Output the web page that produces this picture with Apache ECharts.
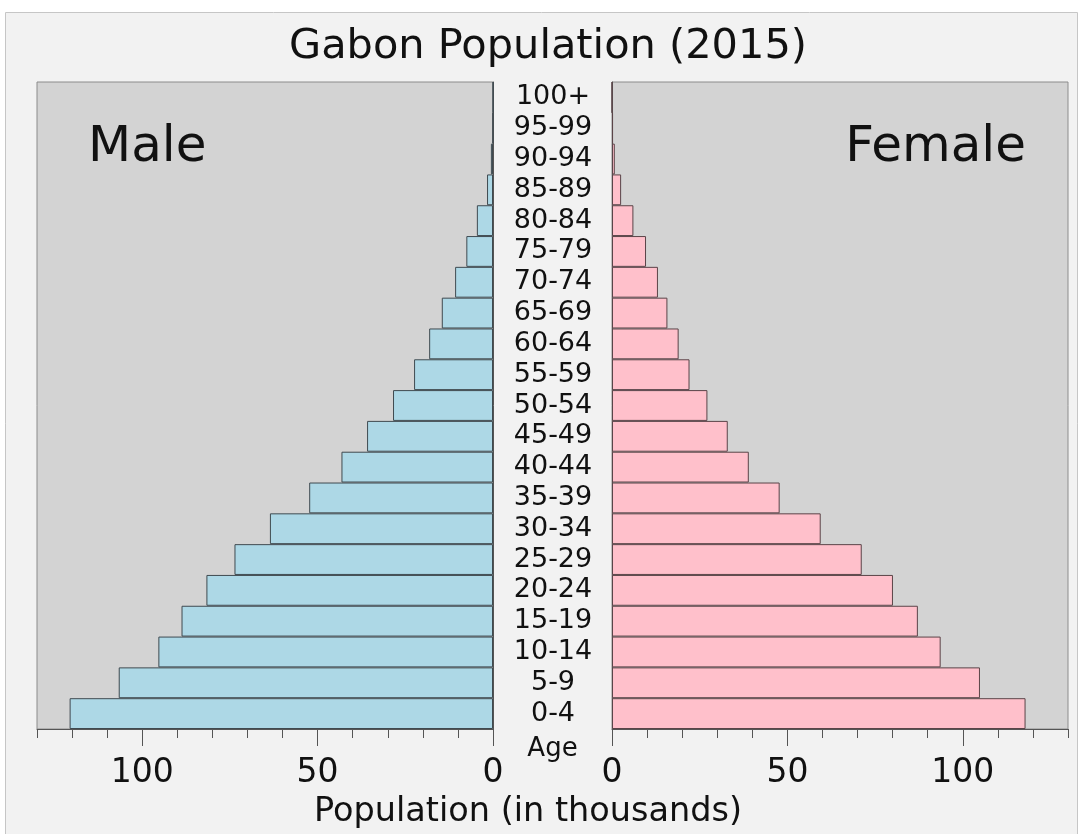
<!DOCTYPE html>
<html>
<head>
<meta charset="utf-8">
<title>Gabon Population (2015)</title>
<script src="https://cdn.jsdelivr.net/npm/echarts@6/dist/echarts.min.js"></script>
<style>
    html, body {margin: 0; padding: 0; background: #fff;}
    #chart {width: 1086px; height: 834px;}
</style>
</head>
<body>
<div id="chart"></div>
<script>
const ages = ['0-4', '5-9', '10-14', '15-19', '20-24', '25-29', '30-34', '35-39', '40-44', '45-49',
    '50-54', '55-59', '60-64', '65-69', '70-74', '75-79', '80-84', '85-89', '90-94', '95-99', '100+'];
// thousands
const male = [120.7, 106.7, 95.4, 88.8, 81.7, 73.7, 63.6, 52.4, 43.2, 35.9,
    28.5, 22.5, 18.2, 14.6, 10.8, 7.6, 4.6, 1.7, 0.6, 0.1, 0];
const female = [117.9, 104.9, 93.7, 87.2, 80.1, 71.2, 59.5, 47.8, 39.0, 33.0,
    27.2, 22.1, 19.0, 15.8, 13.1, 9.7, 6.1, 2.6, 0.8, 0.3, 0];
const majorTicks = [0, 50, 100];
const axisMax = 130;

const font = 'DejaVu Sans';
const ink = '#111';
const tickColor = '#555';

const chart = echarts.init(document.getElementById('chart'), null, {renderer: 'canvas'});

function minorAxis(gridIndex, inverse) {
    return {
        type: 'value',
        gridIndex,
        inverse,
        position: 'bottom',
        min: 0,
        max: axisMax,
        interval: 10,
        axisLine: {show: true, lineStyle: {color: tickColor, width: 1}},
        axisTick: {show: true, length: 9, lineStyle: {color: tickColor, width: 1}},
        axisLabel: {show: false},
        splitLine: {show: false},
    };
}

function majorAxis(gridIndex, inverse) {
    return {
        type: 'value',
        gridIndex,
        inverse,
        position: 'bottom',
        min: 0,
        max: axisMax,
        interval: 50,
        axisLine: {show: false},
        axisTick: {
            show: true,
            length: 17,
            customValues: majorTicks,
            lineStyle: {color: tickColor, width: 1},
        },
        axisLabel: {
            show: true,
            customValues: majorTicks,
            margin: 28,
            fontFamily: font,
            fontSize: 33,
            color: ink,
            formatter: v => (v % 50 === 0 ? String(v) : ''),
        },
        splitLine: {show: false},
    };
}

const barCommon = {
    type: 'bar',
    barWidth: '100%',
    barCategoryGap: '0%',
    animation: false,
    silent: true,
};

const gridCommon = {
    top: 82,
    height: 647,
    width: 456,
    show: true,
    backgroundColor: '#d3d3d3',
    borderColor: '#8c8c8c',
    borderWidth: 1,
    containLabel: false,
};

chart.setOption({
    animation: false,
    backgroundColor: 'transparent',
    grid: [
        {...gridCommon, left: 37},
        {...gridCommon, left: 612},
    ],
    xAxis: [
        minorAxis(0, true),
        majorAxis(0, true),
        minorAxis(1, false),
        majorAxis(1, false),
    ],
    yAxis: [{
        type: 'category',
        gridIndex: 0,
        position: 'right',
        data: ages,
        axisLine: {show: true, lineStyle: {color: tickColor}},
        axisTick: {show: false},
        axisLabel: {
            show: true,
            interval: 0,
            align: 'center',
            margin: 60,
            padding: [6, 0, 0, 0],
            fontFamily: font,
            fontSize: 27,
            color: ink,
        },
    }, {
        type: 'category',
        gridIndex: 1,
        position: 'left',
        data: ages,
        axisLine: {show: true, lineStyle: {color: tickColor}},
        axisTick: {show: false},
        axisLabel: {show: false},
    }],
    series: [{
        ...barCommon,
        name: 'Male',
        xAxisIndex: 0,
        yAxisIndex: 0,
        data: male,
        itemStyle: {color: '#add8e6', borderColor: '#3f4a50', borderWidth: 1},
    }, {
        ...barCommon,
        name: 'Female',
        xAxisIndex: 2,
        yAxisIndex: 1,
        data: female,
        itemStyle: {color: '#ffc0cb', borderColor: '#5a4448', borderWidth: 1},
    }],
    graphic: [{
        type: 'rect',
        z: -10,
        silent: true,
        shape: {x: 5.5, y: 12.5, width: 1072, height: 830},
        style: {fill: '#f2f2f2', stroke: '#c6c6c6', lineWidth: 1},
    }, {
        type: 'text',
        silent: true,
        style: {
            x: 548, y: 47, text: 'Gabon Population (2015)',
            font: `41.5px "${font}"`, fill: ink, textAlign: 'center', textVerticalAlign: 'middle',
        },
    }, {
        type: 'text',
        silent: true,
        style: {
            x: 88, y: 148, text: 'Male',
            font: `50px "${font}"`, fill: ink, textAlign: 'left', textVerticalAlign: 'middle',
        },
    }, {
        type: 'text',
        silent: true,
        style: {
            x: 1026, y: 148, text: 'Female',
            font: `50px "${font}"`, fill: ink, textAlign: 'right', textVerticalAlign: 'middle',
        },
    }, {
        type: 'text',
        silent: true,
        style: {
            x: 552.5, y: 749, text: 'Age',
            font: `26px "${font}"`, fill: ink, textAlign: 'center', textVerticalAlign: 'middle',
        },
    }, {
        type: 'text',
        silent: true,
        style: {
            x: 528, y: 812, text: 'Population (in thousands)',
            font: `33.5px "${font}"`, fill: ink, textAlign: 'center', textVerticalAlign: 'middle',
        },
    }],
});
</script>
</body>
</html>
